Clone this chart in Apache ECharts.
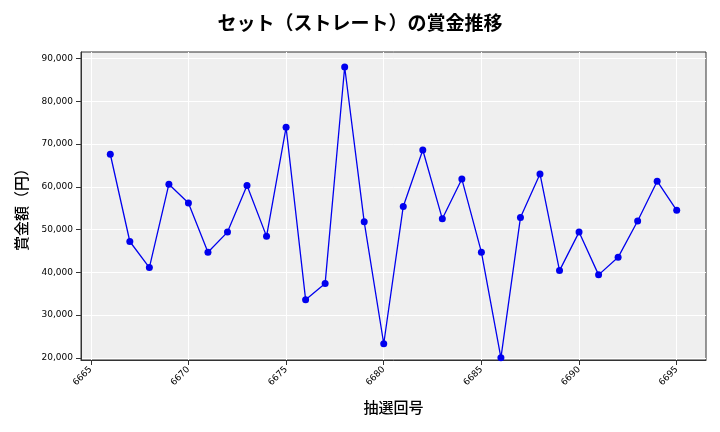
<!DOCTYPE html>
<html><head><meta charset="utf-8">
<script src="https://cdn.jsdelivr.net/npm/echarts@6/dist/echarts.min.js"></script>
<style>html,body{margin:0;padding:0;background:#fff}#c{width:720px;height:432px}</style>
</head><body><div id="c"></div>
<script>
const draws = [6666,6667,6668,6669,6670,6671,6672,6673,6674,6675,6676,6677,6678,6679,6680,6681,6682,6683,6684,6685,6686,6687,6688,6689,6690,6691,6692,6693,6694,6695];
const prizes = [67600,47200,41100,60600,56200,44700,49400,60300,48400,73900,33600,37400,88000,51800,23300,55400,68600,52500,61800,44700,20000,52800,63000,40400,49400,39400,43500,52000,61300,54500];
const xTicks = [6665,6670,6675,6680,6685,6690,6695];
const yTicks = [20000,30000,40000,50000,60000,70000,80000,90000];
const font = '"Noto Sans CJK JP", "DejaVu Sans", sans-serif';
const chart = echarts.init(document.getElementById('c'));
chart.setOption({
  animation:false,
  title:{text:'セット（ストレート）の賞金推移',left:'center',top:8,textStyle:{fontFamily:font,fontSize:19,fontWeight:'bold',color:'#000'}},
  grid:{left:81,right:14,top:52,bottom:72,show:true,backgroundColor:'#efefef',borderWidth:1,borderColor:'#333'},
  xAxis:{type:'value',min:6664.5,max:6696.5,name:'抽選回号',nameLocation:'middle',nameGap:40,
    nameTextStyle:{fontFamily:font,fontSize:15,fontWeight:500,color:'#000'},
    axisLine:{show:true,lineStyle:{color:'#333'}},
    axisTick:{show:true,customValues:xTicks,lineStyle:{color:'#333'}},
    axisLabel:{customValues:xTicks,rotate:45,fontSize:9,color:'#000',fontFamily:'DejaVu Sans',formatter:v=>String(v)},
    splitLine:{show:true,lineStyle:{color:'#fff',width:1}}},
  yAxis:{type:'value',min:19500,max:91500,name:'賞金額（円）',nameLocation:'middle',nameGap:52,
    nameTextStyle:{fontFamily:font,fontSize:15,fontWeight:500,color:'#000'},
    axisLine:{show:true,lineStyle:{color:'#333'}},
    axisTick:{show:true,customValues:yTicks,lineStyle:{color:'#333'}},
    axisLabel:{customValues:yTicks,fontSize:9,color:'#000',fontFamily:'DejaVu Sans',formatter:v=>v.toLocaleString('en-US')},
    splitLine:{show:true,lineStyle:{color:'#fff',width:1}}},
  series:[{type:'line',data:draws.map((d,i)=>[d,prizes[i]]),symbol:'circle',symbolSize:7,
    lineStyle:{color:'#0000ee',width:1.3},itemStyle:{color:'#0000ee'}}]
});
</script></body></html>
